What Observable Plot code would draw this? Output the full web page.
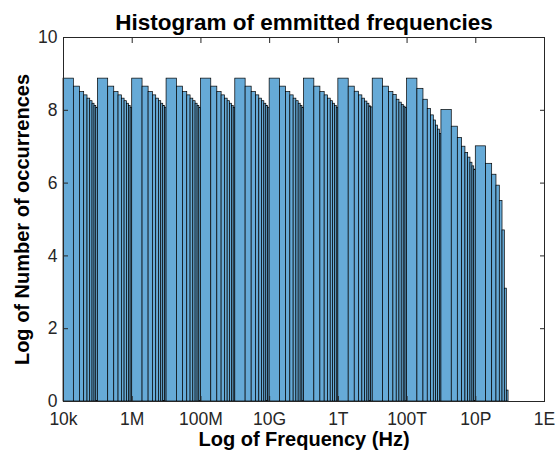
<!DOCTYPE html>
<html>
<head>
<meta charset="utf-8">
<script src="https://cdn.jsdelivr.net/npm/d3@7"></script>
<script src="https://cdn.jsdelivr.net/npm/@observablehq/plot@0.6"></script>
<style>
  html, body { margin: 0; padding: 0; background: #fff; }
</style>
</head>
<body>
<div id="chart"></div>
<script>
// ---- data ----
const title = "Histogram of emmitted frequencies";
const xLabel = "Log of Frequency (Hz)";
const yLabel = "Log of Number of occurrences";

const digits = [1, 2, 3, 4, 5, 6, 7, 8, 9];             // leading digit of each bin
const exponents = [4, 5, 6, 7, 8, 9, 10, 11, 12, 13, 14, 15, 16]; // decade of each bin group

// log10 of counts per bin (digit 1..9) for each decade
const heights4  = [8.87, 8.65, 8.50, 8.41, 8.32, 8.25, 8.18, 8.12, 8.07];
const heights5  = [8.87, 8.65, 8.50, 8.41, 8.32, 8.25, 8.18, 8.12, 8.07];
const heights6  = [8.87, 8.65, 8.50, 8.41, 8.32, 8.25, 8.18, 8.12, 8.07];
const heights7  = [8.87, 8.65, 8.50, 8.41, 8.32, 8.25, 8.18, 8.12, 8.07];
const heights8  = [8.87, 8.65, 8.50, 8.41, 8.32, 8.25, 8.18, 8.12, 8.07];
const heights9  = [8.87, 8.65, 8.50, 8.41, 8.32, 8.25, 8.18, 8.12, 8.07];
const heights10 = [8.87, 8.65, 8.50, 8.41, 8.32, 8.25, 8.18, 8.12, 8.07];
const heights11 = [8.87, 8.65, 8.50, 8.41, 8.32, 8.25, 8.18, 8.12, 8.07];
const heights12 = [8.87, 8.65, 8.51, 8.41, 8.32, 8.24, 8.18, 8.11, 8.08];
const heights13 = [8.87, 8.65, 8.50, 8.42, 8.29, 8.21, 8.15, 8.10, 8.06];
const heights14 = [8.87, 8.59, 8.29, 8.04, 7.86, 7.72, 7.58, 7.47, 7.35];
const heights15 = [8.01, 7.55, 7.24, 7.00, 6.83, 6.70, 6.56, 6.46, 6.37];
const heights16 = [7.01, 6.53, 6.23, 5.93, 5.51, 4.70, 3.10, 0.30];

const heightsByDecade = [heights4, heights5, heights6, heights7, heights8, heights9,
  heights10, heights11, heights12, heights13, heights14, heights15, heights16];

const xTickValues = [1e4, 1e6, 1e8, 1e10, 1e12, 1e14, 1e16, 1e18];
const xTickLabels = ["10k", "1M", "100M", "10G", "1T", "100T", "10P", "1E"];
const yTickValues = [0, 2, 4, 6, 8, 10];

// ---- build bins table ----
const bins = [];
exponents.forEach((e, i) => {
  heightsByDecade[i].forEach((h, j) => {
    const d = digits[j];
    bins.push({x1: d * 10 ** e, x2: (d + 1) * 10 ** e, y: h});
  });
});

const axisColor = "#262626";

const chart = Plot.plot({
  width: 555,
  height: 450,
  marginLeft: 63,
  marginRight: 11,
  marginTop: 37,
  marginBottom: 49,
  style: {
    fontFamily: "'Liberation Sans', Arial, Helvetica, sans-serif",
    fontSize: "17.5px",
    background: "#fff",
    color: axisColor
  },
  x: {type: "log", domain: [1e4, 1e18]},
  y: {domain: [0, 10]},
  marks: [
    Plot.rectY(bins, {x1: "x1", x2: "x2", y1: 0, y2: "y",
      fill: "#66aad7", stroke: "#000", strokeWidth: 0.7}),
    Plot.axisY({anchor: "left", ticks: yTickValues, tickSize: -5, tickPadding: 11,
      label: null, stroke: axisColor, fill: axisColor}),
    Plot.axisY({anchor: "right", ticks: yTickValues, tickSize: -5,
      tickFormat: () => "", label: null, stroke: axisColor}),
    Plot.axisX({anchor: "bottom", ticks: xTickValues, tickSize: -5, tickPadding: 16.5,
      tickFormat: (d) => xTickLabels[xTickValues.indexOf(d)],
      label: null, stroke: axisColor, fill: axisColor}),
    Plot.axisX({anchor: "top", ticks: xTickValues, tickSize: -5,
      tickFormat: () => "", label: null, stroke: axisColor}),
    Plot.frame({stroke: axisColor}),
    Plot.text([title], {frameAnchor: "top", dy: -8, lineAnchor: "bottom",
      fontSize: 22.5, fontWeight: "bold", fill: "#000"}),
    Plot.text([xLabel], {frameAnchor: "bottom", dy: 44.5, lineAnchor: "bottom",
      fontSize: 20, fontWeight: "bold", fill: "#000"}),
    Plot.text([yLabel], {frameAnchor: "left", dx: -41, rotate: -90, textAnchor: "middle",
      fontSize: 20, fontWeight: "bold", fill: "#000"})
  ]
});

document.getElementById("chart").appendChild(chart);
</script>
</body>
</html>
